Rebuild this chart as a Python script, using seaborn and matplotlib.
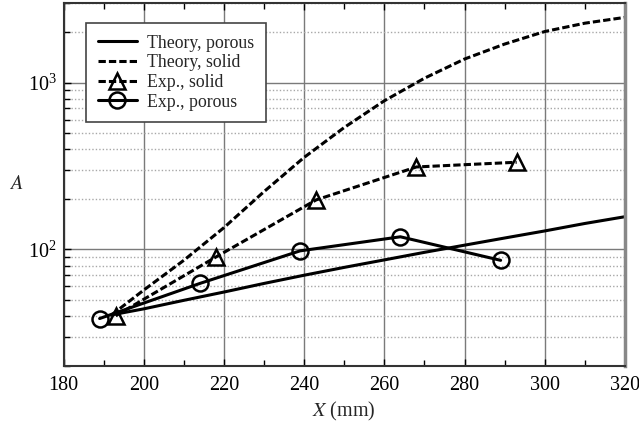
import matplotlib
matplotlib.use("Agg")
import matplotlib.pyplot as plt
from matplotlib.ticker import LogLocator, NullFormatter, MultipleLocator, LogFormatterSciNotation
import seaborn as sns

# Axial position (mm) and amplitude A for each series
x_theory = [192, 200, 210, 220, 230, 240, 250, 260, 270, 280, 290, 300, 310, 320]
theory_porous = [40.5, 44, 49.5, 55.5, 62.5, 70, 78, 86.5, 96, 106, 117, 129, 143, 157]
theory_solid = [40.5, 57, 86, 135, 222, 356, 538, 778, 1062, 1384, 1702, 2023, 2270, 2460]

x_exp_solid = [193, 218, 243, 268, 293]
exp_solid = [40, 90, 198, 312, 333]

x_exp_porous = [189, 214, 239, 264, 289]
exp_porous = [38.5, 62.5, 98, 119, 86]

series_labels = ["Theory, porous", "Theory, solid", "Exp., solid", "Exp., porous"]
x_ticks = [180, 200, 220, 240, 260, 280, 300, 320]

sns.set_style("white")
plt.rcParams["font.family"] = ["Liberation Serif", "DejaVu Serif"]
plt.rcParams["mathtext.fontset"] = "stix"

fig = plt.figure(figsize=(6.39, 4.28), dpi=100)
ax = fig.add_axes([0.0994, 0.1449, 0.8786, 0.8481])

lw = 2.2
dash = (2.4, 1.0)
marker_style = dict(markersize=11.5, markerfacecolor="none",
                    markeredgecolor="black", markeredgewidth=1.8)

sns.lineplot(x=x_theory, y=theory_porous, ax=ax, color="black", lw=lw,
             label=series_labels[0], sort=False, estimator=None)
sns.lineplot(x=x_theory, y=theory_solid, ax=ax, color="black", lw=lw,
             label=series_labels[1], sort=False, estimator=None)
sns.lineplot(x=x_exp_solid, y=exp_solid, ax=ax, color="black", lw=lw,
             marker="^", label=series_labels[2], sort=False, estimator=None,
             **marker_style)
sns.lineplot(x=x_exp_porous, y=exp_porous, ax=ax, color="black", lw=lw,
             marker="o", label=series_labels[3], sort=False, estimator=None,
             **marker_style)

lines = ax.get_lines()
lines[1].set_dashes(dash)
lines[2].set_dashes(dash)

ax.set_yscale("log")
ax.set_xlim(180, 320)
ax.set_ylim(20, 3000)

ax.set_xticks(x_ticks)
ax.xaxis.set_minor_locator(MultipleLocator(10))
ax.yaxis.set_major_locator(LogLocator(base=10, numticks=10))
ax.yaxis.set_major_formatter(LogFormatterSciNotation(base=10))
ax.yaxis.set_minor_locator(LogLocator(base=10, subs=range(2, 10), numticks=20))
ax.yaxis.set_minor_formatter(NullFormatter())

ax.grid(True, which="major", axis="both", color="#7a7a7a", lw=1.0, ls="-")
ax.grid(True, which="minor", axis="y", color="#a8a8a8", lw=1.0, ls=(0, (1, 1.5)))
ax.grid(False, which="minor", axis="x")

ax.tick_params(which="both", direction="in", top=True, bottom=True, left=True,
               right=False, colors="black", labelsize=14.5)
ax.tick_params(which="major", length=5, width=1)
ax.tick_params(which="minor", length=4, width=1)
ax.tick_params(axis="x", pad=7)
ax.tick_params(axis="y", pad=5)

for name, sp in ax.spines.items():
    sp.set_color("#333333")
    sp.set_linewidth(1.5)
ax.spines["right"].set_color("#888888")
ax.spines["right"].set_linewidth(2.5)

ax.set_xlabel("$X$ (mm)", fontsize=14.5, labelpad=4)
ax.set_ylabel("$A$", fontsize=14.5, rotation=0, va="center", ha="center")
ax.yaxis.set_label_coords(-0.085, 0.5)

leg = ax.legend(loc="upper left", bbox_to_anchor=(0.04, 0.945), borderaxespad=0,
                fontsize=12.8, frameon=True, fancybox=False, framealpha=1,
                edgecolor="#444444", handlelength=2.2, handletextpad=0.6,
                labelspacing=0.15, borderpad=0.65)
leg.get_frame().set_linewidth(1.2)

fig.savefig("out.png", dpi=100)
